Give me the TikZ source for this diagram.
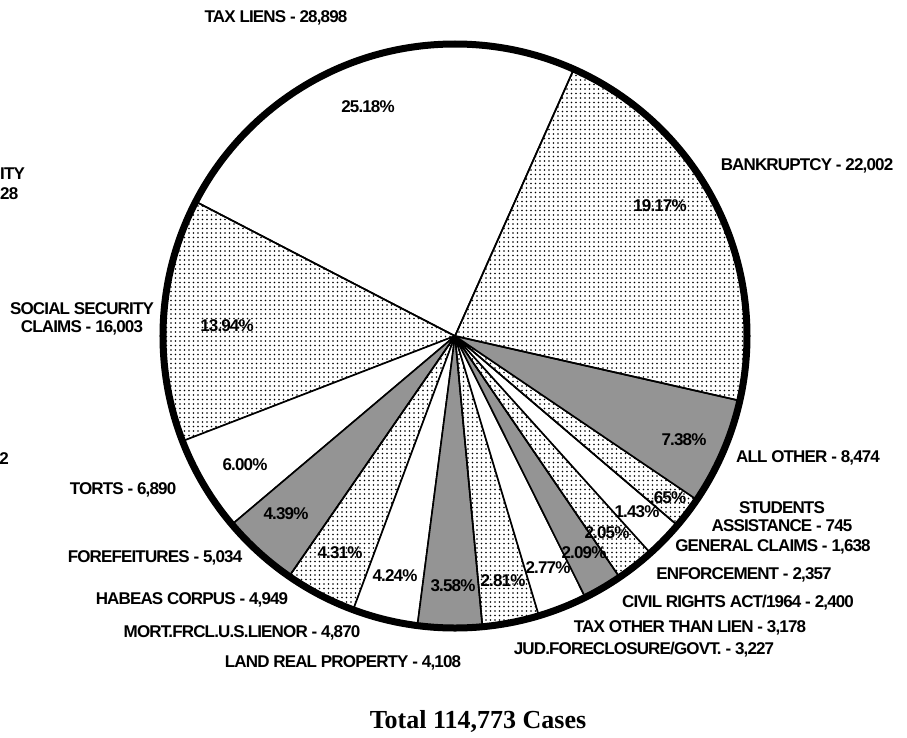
\documentclass[tikz,border=0pt]{standalone}
\usepackage{fontspec}
\setmainfont{Liberation Serif}
\newfontfamily\lblfont[LetterSpace=-5]{Liberation Sans}
\usetikzlibrary{patterns.meta}

\begin{document}
\begin{tikzpicture}[x=1pt, y=1pt,
  lbl/.style={font=\lblfont\bfseries\fontsize{17}{18}\selectfont, inner sep=0pt, align=center},
  wedge/.style={draw, line width=1.6pt, line join=round},
  blankwedge/.style={wedge, fill=white},
  dotwedge/.style={wedge, pattern={Dots[distance=4.5pt, radius=0.9pt]}},
  graywedge/.style={wedge, fill=black!42}]
\useasboundingbox (-455,-401) rectangle (452,336);
\coordinate (ctr) at (0,0);

% Slices, counter-clockwise from tax liens
\draw[blankwedge] (ctr) -- (66:292) arc[start angle=66, end angle=152.6, radius=292] -- cycle;
\draw[dotwedge] (ctr) -- (152.6:292) arc[start angle=152.6, end angle=201.1, radius=292] -- cycle;
\draw[blankwedge] (ctr) -- (201.1:292) arc[start angle=201.1, end angle=220.2, radius=292] -- cycle;
\draw[graywedge] (ctr) -- (220.2:292) arc[start angle=220.2, end angle=235.4, radius=292] -- cycle;
\draw[dotwedge] (ctr) -- (235.4:292) arc[start angle=235.4, end angle=249.6, radius=292] -- cycle;
\draw[blankwedge] (ctr) -- (249.6:292) arc[start angle=249.6, end angle=262.6, radius=292] -- cycle;
\draw[graywedge] (ctr) -- (262.6:292) arc[start angle=262.6, end angle=275.4, radius=292] -- cycle;
\draw[dotwedge] (ctr) -- (275.4:292) arc[start angle=275.4, end angle=286.7, radius=292] -- cycle;
\draw[blankwedge] (ctr) -- (286.7:292) arc[start angle=286.7, end angle=296.5, radius=292] -- cycle;
\draw[graywedge] (ctr) -- (296.5:292) arc[start angle=296.5, end angle=304.3, radius=292] -- cycle;
\draw[dotwedge] (ctr) -- (304.3:292) arc[start angle=304.3, end angle=312.0, radius=292] -- cycle;
\draw[blankwedge] (ctr) -- (312.0:292) arc[start angle=312.0, end angle=319.6, radius=292] -- cycle;
\draw[dotwedge] (ctr) -- (319.6:292) arc[start angle=319.6, end angle=325.9, radius=292] -- cycle;
\draw[graywedge] (ctr) -- (325.9:292) arc[start angle=325.9, end angle=347.2, radius=292] -- cycle;
\draw[dotwedge] (ctr) -- (347.2:292) arc[start angle=347.2, end angle=426.0, radius=292] -- cycle;

% Rim
\draw[line width=7pt] (ctr) circle[radius=292];

% Percentages
\node[lbl] (pct-taxliens) at (-87,229) {25.18\%};
\node[lbl] (pct-bankruptcy) at (205,130) {19.17\%};
\node[lbl] (pct-social) at (-228,10) {13.94\%};
\node[lbl] (pct-torts) at (-210,-129) {6.00\%};
\node[lbl] (pct-forfeit) at (-169,-178) {4.39\%};
\node[lbl] (pct-habeas) at (-115,-217) {4.31\%};
\node[lbl] (pct-mort) at (-60,-240) {4.24\%};
\node[lbl] (pct-land) at (-2,-250) {3.58\%};
\node[lbl] (pct-jud) at (48,-245) {2.81\%};
\node[lbl] (pct-taxother) at (93,-232) {2.77\%};
\node[lbl] (pct-civil) at (129,-217) {2.09\%};
\node[lbl] (pct-enforce) at (152,-197) {2.05\%};
\node[lbl] (pct-general) at (182,-176) {1.43\%};
\node[lbl] (pct-students) at (213,-162) {.65\%};
\node[lbl] (pct-allother) at (229,-104) {7.38\%};

% Categories
\node[lbl] (taxliens) at (-179,318) {TAX LIENS - 28,898};
\node[lbl] (bankruptcy) at (352,170) {BANKRUPTCY - 22,002};
\node[lbl] (social) at (-373,17) {SOCIAL SECURITY\\CLAIMS - 16,003};
\node[lbl] (torts) at (-332,-154) {TORTS - 6,890};
\node[lbl] (forfeit) at (-300,-222) {FOREFEITURES - 5,034};
\node[lbl] (habeas) at (-263,-264) {HABEAS CORPUS - 4,949};
\node[lbl] (mort) at (-213,-297) {MORT.FRCL.U.S.LIENOR - 4,870};
\node[lbl] (land) at (-112,-327) {LAND REAL PROPERTY - 4,108};
\node[lbl] (jud) at (189,-314) {JUD.FORECLOSURE/GOVT. - 3,227};
\node[lbl] (taxother) at (235,-292) {TAX OTHER THAN LIEN - 3,178};
\node[lbl] (civil) at (283,-267) {CIVIL RIGHTS ACT/1964 - 2,400};
\node[lbl] (enforce) at (289,-239) {ENFORCEMENT - 2,357};
\node[lbl] (general) at (318,-211) {GENERAL CLAIMS - 1,638};
\node[lbl] (students) at (327,-181) {STUDENTS\\ASSISTANCE - 745};
\node[lbl] (allother) at (353,-122) {ALL OTHER - 8,474};

% Cut-off text at the left edge
\node[lbl, anchor=west] (edge-a) at (-455,162) {ITY};
\node[lbl, anchor=west] (edge-b) at (-455,142) {28};
\node[lbl, anchor=east] (edge-c) at (-446,-123) {2};

% Total
\node[font=\bfseries\fontsize{26}{30}\selectfont] (total) at (23,-385) {Total 114,773 Cases};
\end{tikzpicture}
\end{document}
